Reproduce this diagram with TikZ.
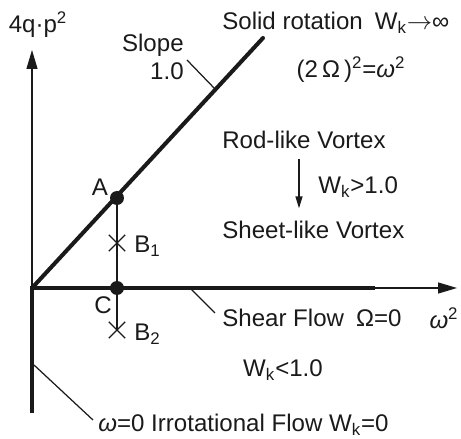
\documentclass[tikz,border=0pt]{standalone}
\usepackage{fontspec}
\setmainfont{Liberation Sans}
\usepackage{tikz}
\usetikzlibrary{arrows.meta,positioning,shapes.misc,calc}
\usepackage{xcolor}
\usepackage{amsmath}
\definecolor{ink}{HTML}{1A1A1A}
\newcommand{\Wk}{W\textsubscript{k}}
\newcommand{\sq}{\textsuperscript{2}}
\newcommand{\om}{\textit{ω}}

\begin{document}
\begin{tikzpicture}[
  x=0.02cm, y=-0.02cm,
  >=Triangle,
  thickln/.style={line width=2.3pt, color=ink},
  thinln/.style={line width=0.8pt, color=ink},
  callout/.style={line width=0.7pt, color=ink},
  axarr/.style={thinln, -{Triangle[length=0.38cm, width=0.22cm]}},
  smallarr/.style={thinln, -{Triangle[length=0.24cm, width=0.14cm]}},
  dot/.style={circle, fill=ink, inner sep=0pt, minimum size=0.28cm},
  xmark/.style={cross out, draw=ink, line width=0.8pt, inner sep=0pt, minimum size=0.3cm},
  lbl/.style={font=\fontsize{13.7}{16}\selectfont, text=ink, inner sep=0pt},
]
\useasboundingbox (0,0) rectangle (461,439);

% axes
\coordinate (O) at (32,288);
\coordinate (ytip) at (32,50);
\coordinate (ybot) at (32,413);
\coordinate (xtip) at (457,288);
\coordinate (shearEnd) at (375,288);
\coordinate (S) at (263,38);

\draw[axarr] (O) -- (ytip);
\draw[axarr] (shearEnd) -- (xtip);
\draw[thickln] (ybot) -- (O) -- (shearEnd);
\draw[thickln, line cap=round] (O) -- (S);

\node[lbl] (ylab) at (38,25) {4q·p\sq};
\node[lbl] (xlab) at (444,318) {\om\sq};

% points on the line A -- B2
\node[dot] (A) at (117,198) {};
\node[xmark] (B1) at (117,243) {};
\node[dot] (C) at (117,288) {};
\node[xmark] (B2) at (117,330) {};
\draw[thinln] (A.center) -- (B2.center);

\node[lbl] (Alab) at (100,187) {A};
\node[lbl] (Clab) at (103,305) {C};
\node[lbl, anchor=west] (B1lab) at (134,246) {B\textsubscript{1}};
\node[lbl, anchor=west] (B2lab) at (134,334) {B\textsubscript{2}};

% slope callout
\node[lbl, align=right, anchor=east] (slopelbl) at (184,57) {Slope\\1.0};
\coordinate (slopeFrom) at (187,60);
\coordinate (slopePt) at (215,89);
\draw[callout] (slopeFrom) -- (slopePt);

% top right texts
\node[lbl, anchor=west] (solid) at (222,23) {Solid rotation\enspace\Wk$\to$∞};
\node[lbl] (omeq) at (351,70) {(2\,Ω\,)\sq=\om\sq};

\node[lbl, anchor=west] (rod) at (222,140) {Rod-like Vortex};
\node[lbl, anchor=west] (wkgt) at (318,187) {\Wk>1.0};
\node[lbl, anchor=west] (sheet) at (222,230) {Sheet-like Vortex};
\coordinate (rodarr) at (299,0);
\draw[smallarr] ([yshift=-0.2cm]rod.south -| rodarr) -- ([yshift=0.25cm]sheet.north -| rodarr);

% shear flow callout
\node[lbl, anchor=west] (shear) at (222,318) {Shear Flow\enspace Ω=0};
\coordinate (shearPt) at (190,288);
\coordinate (shearTo) at (215,313);
\draw[callout] (shearPt) -- (shearTo);

\node[lbl] (wklt) at (283,370) {\Wk<1.0};

% irrotational callout
\node[lbl, anchor=west] (irrot) at (98,425) {\om=0 Irrotational Flow \Wk=0};
\coordinate (irrotPt) at (34,365);
\coordinate (irrotTo) at (93,420);
\draw[callout] (irrotPt) -- (irrotTo);

\end{tikzpicture}
\end{document}
